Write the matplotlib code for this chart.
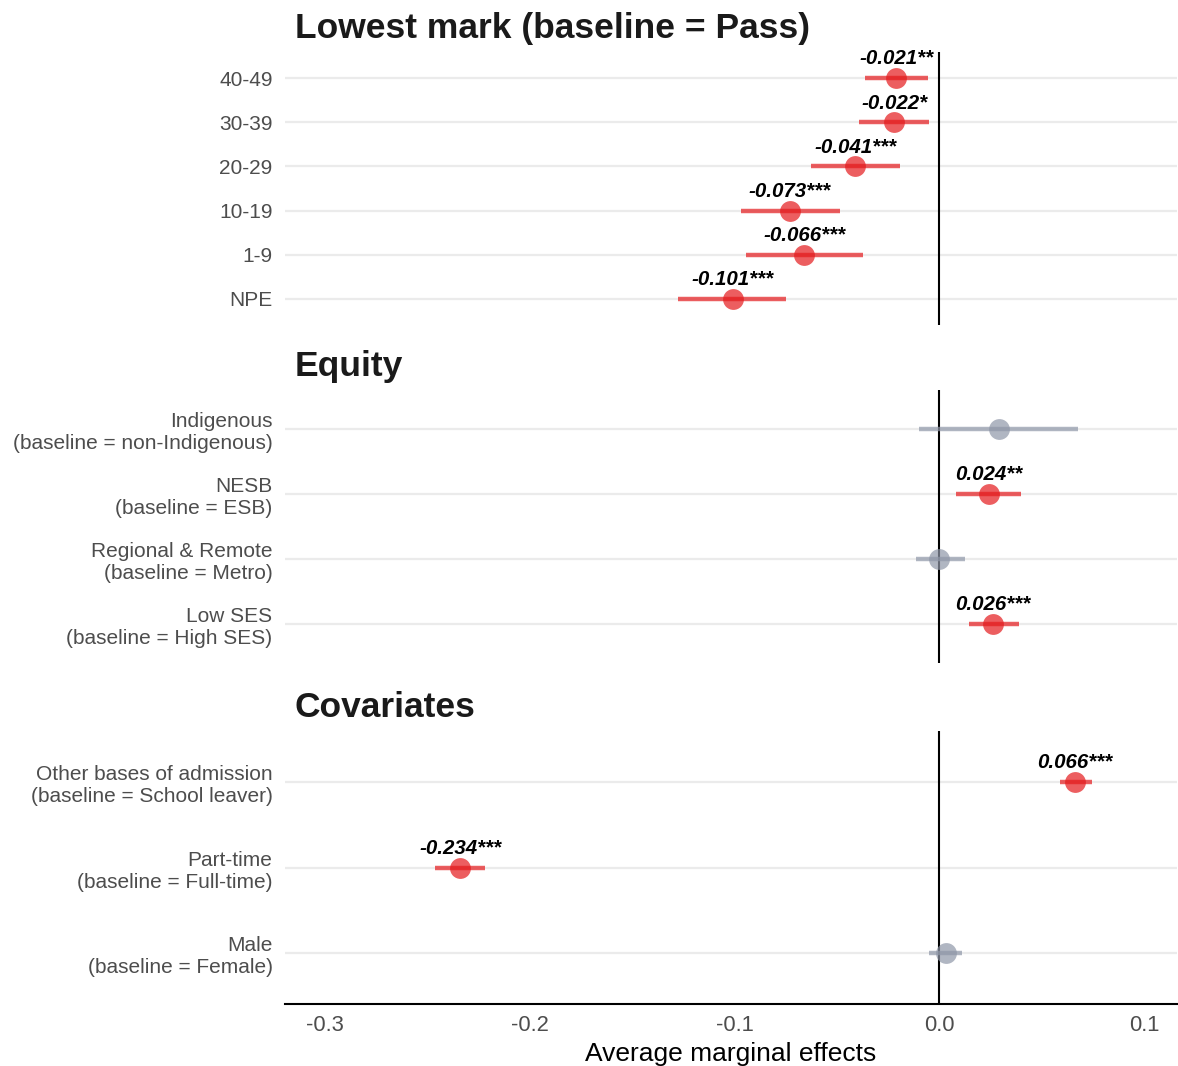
import matplotlib.pyplot as plt

plt.rcParams['font.family'] = ['Liberation Sans', 'DejaVu Sans']

# Lowest mark panel (bottom to top)
mark_labels = ['NPE', '1-9', '10-19', '20-29', '30-39', '40-49']
mark_est = [-0.101, -0.066, -0.073, -0.041, -0.022, -0.021]
mark_lo = [-0.1276, -0.0943, -0.0967, -0.0626, -0.0395, -0.0361]
mark_hi = [-0.0751, -0.0374, -0.0484, -0.0192, -0.0049, -0.0054]
mark_stars = ['***', '***', '***', '***', '*', '**']

# Equity panel (bottom to top)
equity_labels = ['Low SES\n(baseline = High SES)',
                 'Regional & Remote\n(baseline = Metro)',
                 'NESB\n(baseline = ESB)',
                 'Indigenous\n(baseline = non-Indigenous)']
equity_est = [0.026, -0.0002, 0.024, 0.0293]
equity_lo = [0.0143, -0.0114, 0.0080, -0.0101]
equity_hi = [0.0389, 0.0124, 0.0400, 0.0677]
equity_stars = ['***', '', '**', '']

# Covariates panel (bottom to top)
cov_labels = ['Male\n(baseline = Female)',
              'Part-time\n(baseline = Full-time)',
              'Other bases of admission\n(baseline = School leaver)']
cov_est = [0.003, -0.234, 0.066]
cov_lo = [-0.005, -0.2464, 0.0589]
cov_hi = [0.011, -0.222, 0.0746]
cov_stars = ['', '***', '***']

x_ticks = [-0.3, -0.2, -0.1, 0.0, 0.1]

panels = [
    ('Lowest mark (baseline = Pass)', mark_labels, mark_est, mark_lo, mark_hi, mark_stars),
    ('Equity', equity_labels, equity_est, equity_lo, equity_hi, equity_stars),
    ('Covariates', cov_labels, cov_est, cov_lo, cov_hi, cov_stars),
]

RED = '#E41A1C'
GREY = '#8F97A8'

fig = plt.figure(figsize=(11.78, 10.66), dpi=100)
W, H = 1178, 1066
left = 285 / W
width = (1177 - 285) / W
tops = [52, 390, 731]
panel_h = 273

axes = []
for (title, labels, est, lo, hi, stars), top in zip(panels, tops):
    ax = fig.add_axes([left, 1 - (top + panel_h) / H, width, panel_h / H])
    axes.append(ax)
    n = len(labels)
    ys = range(1, n + 1)
    for y in ys:
        ax.axhline(y, color='#EBEBEB', lw=1.6, zorder=0)
    ax.axvline(0, color='black', lw=1.5, zorder=1)
    for y, e, l, h, s in zip(ys, est, lo, hi, stars):
        c = RED if s else GREY
        ax.plot([l, h], [y, y], color=c, lw=3.2, alpha=0.7,
                solid_capstyle='butt', zorder=2)
        ax.plot(e, y, 'o', ms=15, color=c, alpha=0.7, mec='none', zorder=3)
        if s:
            ax.annotate(f'{e:.3f}{s}', xy=(e, y), xytext=(0, 14),
                        textcoords='offset points', ha='center', va='center',
                        fontsize=14.8, fontweight='bold', fontstyle='italic',
                        color='black', zorder=4)
    ax.set_xlim(-0.3195, 0.116)
    ax.set_ylim(0.4, n + 0.6)
    ax.set_yticks(list(ys))
    ax.set_yticklabels(labels, fontsize=15, color='#4D4D4D', ha='right',
                       linespacing=1.2)
    ax.tick_params(axis='y', length=0, pad=9)
    for side in ax.spines:
        ax.spines[side].set_visible(False)
    ax.annotate(title, xy=(0, 1), xycoords='axes fraction', xytext=(7, 17),
                textcoords='offset points', ha='left', va='center',
                fontsize=25.5, fontweight='bold', color='#1A1A1A')
    ax.set_xticks(x_ticks)
    ax.tick_params(axis='x', length=0)
    ax.set_xticklabels([])

bottom = axes[-1]
bottom.spines['bottom'].set_visible(True)
bottom.spines['bottom'].set_linewidth(1.5)
bottom.set_xticklabels([f'{t:.1f}' for t in x_ticks], fontsize=15.8, color='#4D4D4D')
bottom.tick_params(axis='x', length=0, pad=8)
bottom.set_xlabel('Average marginal effects', fontsize=19, labelpad=4)

fig.savefig('out.png', dpi=100)
